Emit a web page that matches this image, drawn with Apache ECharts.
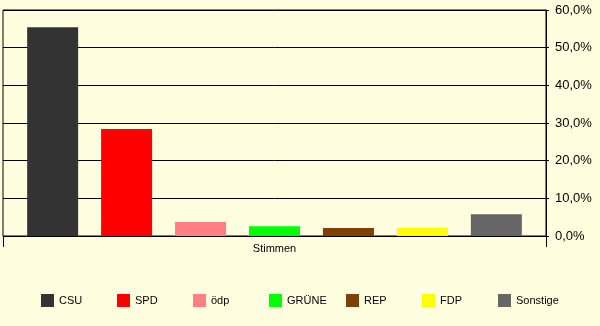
<!DOCTYPE html>
<html><head><meta charset="utf-8">
<script src="https://cdn.jsdelivr.net/npm/echarts@6/dist/echarts.min.js"></script>
<style>html,body{margin:0;padding:0;background:#FFFFE0;}#c{width:600px;height:326px;}</style>
</head><body><div id="c"></div>
<script>
const categories = ['Stimmen'];
const parties = ['CSU', 'SPD', 'ödp', 'GRÜNE', 'REP', 'FDP', 'Sonstige'];
const values = [55.4, 28.4, 3.7, 2.6, 2.1, 2.2, 5.8];
const colors = ['#333333', '#FF0000', '#FF8080', '#00FF00', '#804000', '#FFFF00', '#666666'];
const yTicks = [0, 10, 20, 30, 40, 50, 60];
const legendLeft = [41, 117, 193, 269, 346, 422, 498];

const font = 'Arial, "Liberation Sans", sans-serif';
const chart = echarts.init(document.getElementById('c'), null, {renderer: 'canvas'});
chart.setOption({
  animation: false,
  backgroundColor: '#FFFFE0',
  textStyle: {fontFamily: font, color: '#000'},
  grid: {left: 3, right: 54, top: 10, bottom: 90, show: true, borderColor: '#000', borderWidth: 1, backgroundColor: 'transparent'},
  legend: parties.map((p, i) => ({
    data: [p], left: legendLeft[i], top: 294, padding: 0,
    itemWidth: 13, itemHeight: 13, icon: 'rect', selectedMode: false,
    textStyle: {fontSize: 11, fontFamily: font, color: '#000'}
  })),
  xAxis: {
    type: 'category', data: categories,
    axisLine: {show: true, lineStyle: {color: '#000', width: 1}},
    axisTick: {show: true, length: 11, lineStyle: {color: '#000'}},
    axisLabel: {fontSize: 11, fontFamily: font, color: '#000', margin: 7}
  },
  yAxis: {
    type: 'value', position: 'right', min: yTicks[0], max: yTicks[yTicks.length - 1], interval: 10,
    axisLine: {show: true, lineStyle: {color: '#000', width: 1}},
    axisTick: {show: true, length: 3, lineStyle: {color: '#000'}},
    splitLine: {show: true, lineStyle: {color: '#000', width: 1}},
    axisLabel: {fontSize: 13, fontFamily: font, color: '#000', margin: 9,
      formatter: v => v.toFixed(1).replace('.', ',') + '%'}
  },
  series: parties.map((p, i) => ({
    name: p, type: 'bar', data: [values[i]], barWidth: 51, barGap: '45%',
    itemStyle: {color: colors[i]}
  }))
});
</script></body></html>
